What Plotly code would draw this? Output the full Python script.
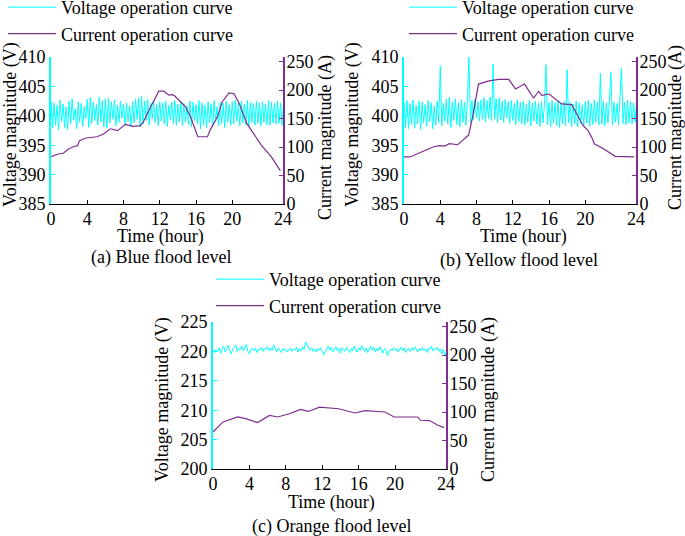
import plotly.graph_objs as go

# time grid for the voltage samples (10 min steps, axis runs to ~25.6 h)
t_volt = [i / 6 for i in range(155)]

volt_a = [
    402.6, 397.9, 402.2, 398.4, 401.8, 397.6, 402.7, 399.1, 402.0, 398.0,
    401.5, 397.7, 402.5, 398.6, 402.9, 399.3, 401.2, 397.8, 402.4, 398.9,
    402.1, 398.2, 401.6, 399.5, 402.8, 398.0, 403.1, 398.7, 402.3, 399.2,
    401.9, 398.4, 403.2, 399.0, 402.6, 398.1, 402.9, 397.9, 403.0, 398.8,
    402.4, 399.4, 402.7, 398.3, 401.8, 398.9, 402.5, 399.6, 402.0, 398.5,
    402.2, 399.0, 401.7, 398.2, 402.4, 398.8, 402.9, 399.4, 403.0, 398.1,
    403.3, 398.6, 402.5, 399.2, 402.8, 398.4, 402.1, 399.5, 402.6, 398.9,
    401.9, 398.3, 402.4, 399.1, 402.2, 398.6, 402.5, 398.2, 401.8, 399.3,
    402.3, 398.7, 402.6, 398.4, 402.0, 399.0, 402.4, 398.3, 402.1, 398.9,
    401.7, 398.5, 402.5, 398.1, 402.3, 399.2, 401.9, 398.6, 402.6, 397.8,
    402.2, 398.4, 401.8, 397.9, 402.4, 398.8, 402.0, 398.2, 402.6, 399.0,
    401.6, 398.3, 402.3, 398.7, 402.1, 398.0, 402.5, 398.9, 401.9, 398.4,
    402.4, 398.6, 402.7, 399.1, 402.2, 398.3, 402.5, 398.8, 402.0, 398.5,
    402.6, 398.2, 402.3, 398.9, 402.1, 398.4, 402.5, 398.7, 402.2, 398.3,
    402.4, 398.9, 402.0, 398.5, 402.6, 398.4, 402.3, 398.8, 402.1, 398.6,
    402.5, 398.7, 402.2, 398.4, 402.4,
]

volt_b = [
    402.4, 398.0, 402.6, 397.8, 402.1, 398.5, 402.7, 397.9, 401.8, 398.6,
    402.5, 397.7, 402.3, 398.8, 401.9, 398.2, 402.6, 399.0, 402.2, 397.8,
    401.7, 398.4, 402.5, 398.9, 408.5, 398.3, 402.1, 399.1, 402.8, 398.6,
    403.1, 398.0, 402.4, 399.2, 402.9, 398.5, 402.2, 398.1, 402.7, 398.9,
    402.3, 398.4, 402.8, 410.0, 398.9, 402.6, 399.3, 402.9, 399.6, 402.4,
    399.1, 402.7, 399.4, 403.1, 399.0, 402.6, 399.5, 403.2, 399.2, 408.8,
    399.4, 402.9, 398.8, 403.0, 399.3, 402.5, 398.9, 402.8, 399.6, 402.4,
    398.7, 402.6, 399.2, 402.1, 398.5, 402.7, 399.0, 402.3, 398.6, 402.5,
    398.4, 402.0, 398.9, 402.6, 398.3, 402.2, 399.1, 402.5, 398.6, 402.1,
    398.2, 402.4, 398.8, 402.0, 408.7, 398.5, 402.3, 398.1, 402.6, 398.7,
    402.2, 398.4, 402.5, 398.0, 402.1, 398.6, 402.4, 398.3, 407.8, 398.8,
    402.3, 398.2, 402.0, 398.6, 402.5, 398.1, 402.2, 398.7, 401.9, 398.3,
    402.4, 398.8, 402.6, 398.2, 402.1, 398.5, 402.7, 398.9, 402.3, 398.4,
    407.2, 398.6, 402.5, 398.3, 402.2, 398.8, 402.6, 407.4, 398.5, 402.3,
    398.9, 402.1, 398.4, 402.6, 408.1, 398.7, 402.3, 398.5, 402.7, 398.8,
    402.4, 398.6, 402.2, 398.9, 402.5,
]

volt_c = [
    220.1, 219.8, 220.3, 220.0, 220.6, 219.7, 220.4, 220.9, 219.9, 220.5,
    221.0, 220.2, 219.6, 220.4, 220.8, 221.1, 220.0, 220.5, 220.3, 220.9,
    220.1, 220.7, 221.2, 220.0, 219.6, 220.3, 220.6, 220.1, 220.5, 219.8,
    220.4, 220.2, 220.7, 220.0, 220.5, 220.3, 220.8, 220.1, 220.6, 220.2,
    221.1, 220.4, 219.9, 220.6, 220.2, 219.8, 220.5, 220.1, 220.4, 219.9,
    220.3, 220.6, 220.0, 220.4, 220.2, 220.7, 219.9, 220.5, 220.1, 220.8,
    220.3, 221.6, 221.1, 220.7, 220.2, 220.6, 220.0, 220.4, 219.9, 220.5,
    220.2, 220.6, 220.1, 219.4, 220.0, 220.5, 220.9, 220.2, 220.7, 219.9,
    220.4, 220.8, 220.1, 220.5, 219.7, 220.6, 220.3, 220.0, 220.7, 220.2,
    219.8, 220.5, 220.1, 220.9, 220.3, 219.9, 220.6, 220.2, 221.0, 220.4,
    220.0, 220.6, 219.8, 220.4, 220.9, 220.2, 220.7, 219.9, 220.5, 220.1,
    220.8, 220.3, 219.7, 220.5, 220.2, 219.3, 220.0, 220.4, 220.1, 220.6,
    220.2, 220.5, 219.9, 220.4, 220.7, 220.1, 220.6, 219.8, 220.3, 220.5,
    220.0, 220.6, 220.2, 220.8, 220.3, 219.9, 220.5, 220.1, 220.7, 220.2,
    220.4, 219.8, 220.6, 220.3, 220.9, 220.1, 220.5, 220.2, 220.7, 220.0,
    220.4, 219.6, 220.3, 219.2, 220.1,
]

# current curves (hour, ampere)
t_cur_a = [0, 0.8, 1.36, 1.92, 2.66, 2.92, 3.14, 3.88, 5.06, 5.8, 6.54, 7.35,
           8.2, 9.05, 9.87, 10.2, 11.05, 11.9, 12.45, 13.0, 13.38, 13.63, 14.1,
           14.85, 15.4, 16.2, 17.26, 17.6, 18.37, 18.9, 19.65, 20.2, 20.77,
           21.6, 23.2, 24.3, 25.3]
cur_a = [83, 87.7, 89, 96.5, 101.7, 102, 111, 115.8, 118, 122.8, 132, 128.7,
         139.8, 136.3, 137.4, 144.4, 172, 198, 198, 191, 192, 190, 182.5,
         170.7, 153, 118, 118, 131, 153, 179.5, 195, 193.5, 176.6,
         141.5, 103.5, 83, 58.5]

t_cur_b = [0, 0.65, 1.93, 3.2, 3.93, 4.47, 5.02, 5.93, 6.47, 7.13, 7.56, 8.22,
           9.38, 10.47, 11.56, 12.3, 13.3, 14.3, 14.85, 15.2, 16.0, 16.67,
           17.4, 18.5, 19.75, 20.3, 20.7, 21.0, 22.1, 23.3, 25.4]
cur_b = [82.6, 82.6, 91.3, 100, 102.3, 101.7, 105.8, 104, 111.6, 121, 152,
         210.5, 216, 218.6, 218.6, 202, 210.5, 186, 197.7, 190.7, 193, 184,
         175.6, 174.4, 137.8, 129, 117.4, 105.8, 96, 83.7, 82.6]

t_cur_c = [0, 1.1, 2.7, 3.6, 4.9, 6.2, 7.1, 8.4, 9.6, 10.5, 11.7, 13.8, 15.6,
           16.7, 18.9, 19.9, 22.5, 22.8, 23.8, 24.7, 25.4]
cur_c = [65, 82.6, 91.3, 88.4, 81.4, 94, 91.3, 97, 104.7, 101, 108.7, 105.8,
         98.3, 102.3, 100, 91.3, 91.3, 85.5, 85, 76.7, 72.7]

x_ticks = [0, 4, 8, 12, 16, 20, 25.6]
x_labels = ["0", "4", "8", "12", "16", "20", "24"]
cur_ticks = [0, 50, 100, 150, 200, 250]

CYAN = "#00FFFF"
PURPLE = "#7E2F8E"
FONT = dict(family="Liberation Serif, Times New Roman, serif", size=18,
            color="black")

fig = go.Figure()

panels = [
    # x axis, left y, right y, voltage, current x, current y, legend
    ("x", "y", "y2", volt_a, t_cur_a, cur_a, "legend"),
    ("x2", "y3", "y4", volt_b, t_cur_b, cur_b, "legend2"),
    ("x3", "y5", "y6", volt_c, t_cur_c, cur_c, "legend3"),
]
for xa, yl, yr, volt, tc, cur, leg in panels:
    fig.add_trace(go.Scatter(x=t_volt, y=volt, xaxis=xa, yaxis=yl, mode="lines",
                             line=dict(color=CYAN, width=1),
                             name="Voltage operation curve", legend=leg,
                             legendgroup=leg + "v"))
    fig.add_trace(go.Scatter(x=tc, y=cur, xaxis=xa, yaxis=yr, mode="lines",
                             line=dict(color=PURPLE, width=1.2),
                             name="Current operation curve", legend=leg,
                             legendgroup=leg + "c"))

def xax(dom, anchor):
    return dict(domain=dom, anchor=anchor, range=[0, 25.6], tickvals=x_ticks,
                ticktext=x_labels, ticks="inside", ticklen=4, tickcolor="black",
                showline=True, linecolor="black", linewidth=1, showgrid=False,
                zeroline=False, tickfont=FONT, automargin=False,
                ticklabelstandoff=-2)

def yleft(dom, anchor, rng, vals):
    return dict(domain=dom, anchor=anchor, range=rng, tickvals=vals,
                ticks="inside", ticklen=4, tickcolor=CYAN, showline=True,
                linecolor=CYAN, linewidth=2, showgrid=False, zeroline=False,
                tickfont=FONT, automargin=False)

def yright(over, anchor):
    return dict(overlaying=over, anchor=anchor, side="right", range=[0, 258],
                tickvals=cur_ticks, ticks="inside", ticklen=4,
                tickcolor=PURPLE, showline=True, linecolor=PURPLE,
                linewidth=2, showgrid=False, zeroline=False, tickfont=FONT,
                automargin=False, ticklabelstandoff=-2)

W, H = 685, 536
top_dom = [1 - 204 / H, 1 - 57 / H]
bot_dom = [1 - 469 / H, 1 - 322 / H]

leg_style = dict(font=FONT, bgcolor="rgba(0,0,0,0)", xanchor="left",
                 yanchor="top", tracegroupgap=0, itemwidth=48)

fig.update_layout(
    width=W, height=H,
    margin=dict(l=0, r=0, t=0, b=0, autoexpand=False),
    paper_bgcolor="white", plot_bgcolor="white",
    font=FONT,
    xaxis=xax([51 / W, 283 / W], "y"),
    yaxis=yleft(top_dom, "x", [385, 410], [385, 390, 395, 400, 405, 410]),
    yaxis2=yright("y", "x"),
    xaxis2=xax([404 / W, 636 / W], "y3"),
    yaxis3=yleft(top_dom, "x2", [385, 410], [385, 390, 395, 400, 405, 410]),
    yaxis4=yright("y3", "x2"),
    xaxis3=xax([213 / W, 446 / W], "y5"),
    yaxis5=yleft(bot_dom, "x3", [200, 225], [200, 205, 210, 215, 220, 225]),
    yaxis6=yright("y5", "x3"),
    legend=dict(x=3 / W, y=1 + 11 / H, **leg_style),
    legend2=dict(x=404 / W, y=1 + 11 / H, **leg_style),
    legend3=dict(x=211 / W, y=1 - 261 / H, **leg_style),
)

texts = [
    ("Voltage magnitude (V)", 10, 125, -90),
    ("Current magnitude (A)", 325, 138, -90),
    ("Time (hour)", 160, 236, 0),
    ("(a) Blue flood level", 161, 257, 0),
    ("Voltage magnitude (V)", 352, 125, -90),
    ("Current magnitude (A)", 675, 128, -90),
    ("Time (hour)", 523, 236, 0),
    ("(b) Yellow flood level", 519, 260, 0),
    ("Voltage magnitude (V)", 162, 400, -90),
    ("Current magnitude (A)", 488, 400, -90),
    ("Time (hour)", 331, 502, 0),
    ("(c) Orange flood level", 331, 526, 0),
]
for txt, px, py, ang in texts:
    fig.add_annotation(text=txt, x=px / W, y=1 - py / H, xref="paper",
                       yref="paper", showarrow=False, textangle=ang,
                       xanchor="center", yanchor="middle", font=FONT)

# page body has a default 8px margin; drop it so the figure fills the window
fig.write_html("out.html", config={"displayModeBar": False},
               post_script="document.body.style.margin='0px';")
